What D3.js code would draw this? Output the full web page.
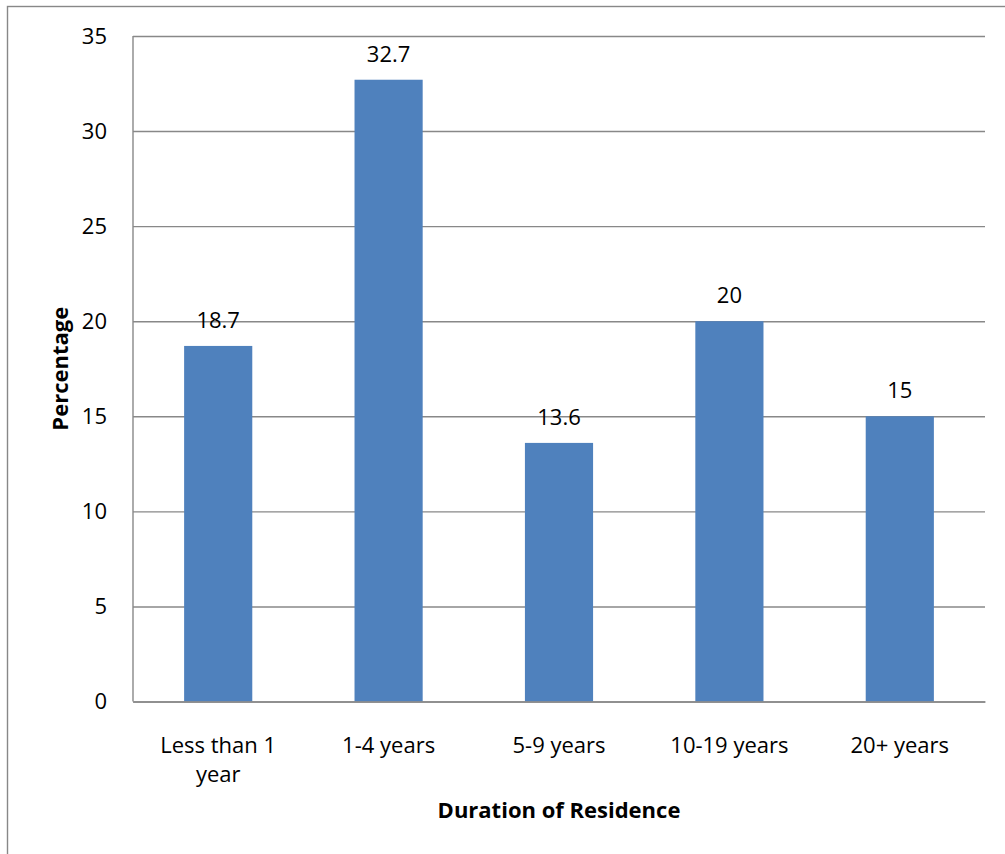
<!DOCTYPE html>
<html>
<head>
<meta charset="utf-8">
<script src="https://cdn.jsdelivr.net/npm/d3@7"></script>
<style>
  html, body { margin: 0; padding: 0; background: #fff; }
  svg { display: block; }
  text { font-family: "Open Sans", sans-serif; fill: #000; }
</style>
</head>
<body>
<svg id="chart" width="1005" height="854"></svg>
<script>
// Share of respondents by how long they have lived at their address
const categories = ["Less than 1 year", "1-4 years", "5-9 years", "10-19 years", "20+ years"];
const percentages = [18.7, 32.7, 13.6, 20, 15];
const yTicks = [0, 5, 10, 15, 20, 25, 30, 35];
const xTitle = "Duration of Residence";
const yTitle = "Percentage";

const W = 1005, H = 854;
const plot = { left: 133, right: 985, top: 36, bottom: 701.5 };
const gridColor = "#888888";
const barColor = "#4F81BD";
const fontFamily = "\"Open Sans\", sans-serif";
const fontSize = 22;
const titleSize = 22;

const svg = d3.select("#chart");

// chart frame
svg.append("rect")
  .attr("x", 7.5).attr("y", 6.5)
  .attr("width", W + 20).attr("height", H + 20)
  .attr("fill", "#fff")
  .attr("stroke", gridColor).attr("stroke-width", 1.4);

const x = d3.scaleBand().domain(categories).range([plot.left, plot.right]).padding(0);
const y = d3.scaleLinear().domain([0, 35]).range([plot.bottom, plot.top]);

// horizontal gridlines + value labels on the left
const yAxis = svg.append("g")
  .attr("transform", `translate(${plot.left},0)`)
  .call(d3.axisLeft(y).tickValues(yTicks).tickSize(-(plot.right - plot.left)).tickPadding(26));
yAxis.select(".domain").remove();
yAxis.selectAll(".tick line").attr("stroke", gridColor).attr("stroke-width", 1.4);
yAxis.selectAll(".tick text")
  .attr("font-size", fontSize)
  .style("font-family", fontFamily)
  .attr("fill", "#000");

// left axis line
svg.append("line")
  .attr("x1", plot.left).attr("x2", plot.left)
  .attr("y1", y(35)).attr("y2", y(0))
  .attr("stroke", gridColor).attr("stroke-width", 1.4);

// bars
const barW = x.bandwidth() * 0.4;
svg.append("g").selectAll("rect")
  .data(categories)
  .join("rect")
  .attr("x", (d) => x(d) + (x.bandwidth() - barW) / 2)
  .attr("y", (d, i) => y(percentages[i]))
  .attr("width", barW)
  .attr("height", (d, i) => y(0) - y(percentages[i]))
  .attr("fill", barColor);

// value labels above bars
svg.append("g").selectAll("text")
  .data(categories)
  .join("text")
  .attr("x", (d) => x(d) + x.bandwidth() / 2)
  .attr("y", (d, i) => y(percentages[i]) - 18)
  .attr("text-anchor", "middle")
  .attr("font-size", fontSize)
  .text((d, i) => String(percentages[i]));

// category axis
const xAxis = svg.append("g")
  .attr("transform", `translate(0,${plot.bottom})`)
  .call(d3.axisBottom(x).tickSize(0).tickPadding(0));
xAxis.select(".domain").attr("stroke", gridColor).attr("stroke-width", 1.4);
xAxis.selectAll(".tick text").each(function (d) {
  const t = d3.select(this);
  t.text(null).attr("y", 0).attr("dy", null)
    .attr("font-size", fontSize)
    .style("font-family", fontFamily)
    .attr("fill", "#000");
  const lines = d === "Less than 1 year" ? ["Less than 1", "year"] : [d];
  lines.forEach((ln, k) => {
    t.append("tspan").attr("x", 0).attr("y", 51 + k * 29).text(ln);
  });
});

// axis titles
svg.append("text")
  .attr("x", (plot.left + plot.right) / 2)
  .attr("y", 818)
  .attr("text-anchor", "middle")
  .attr("font-size", titleSize)
  .attr("font-weight", "bold")
  .text(xTitle);

svg.append("text")
  .attr("transform", `translate(68,${(plot.top + plot.bottom) / 2}) rotate(-90)`)
  .attr("text-anchor", "middle")
  .attr("font-size", titleSize)
  .attr("font-weight", "bold")
  .text(yTitle);
</script>
</body>
</html>
